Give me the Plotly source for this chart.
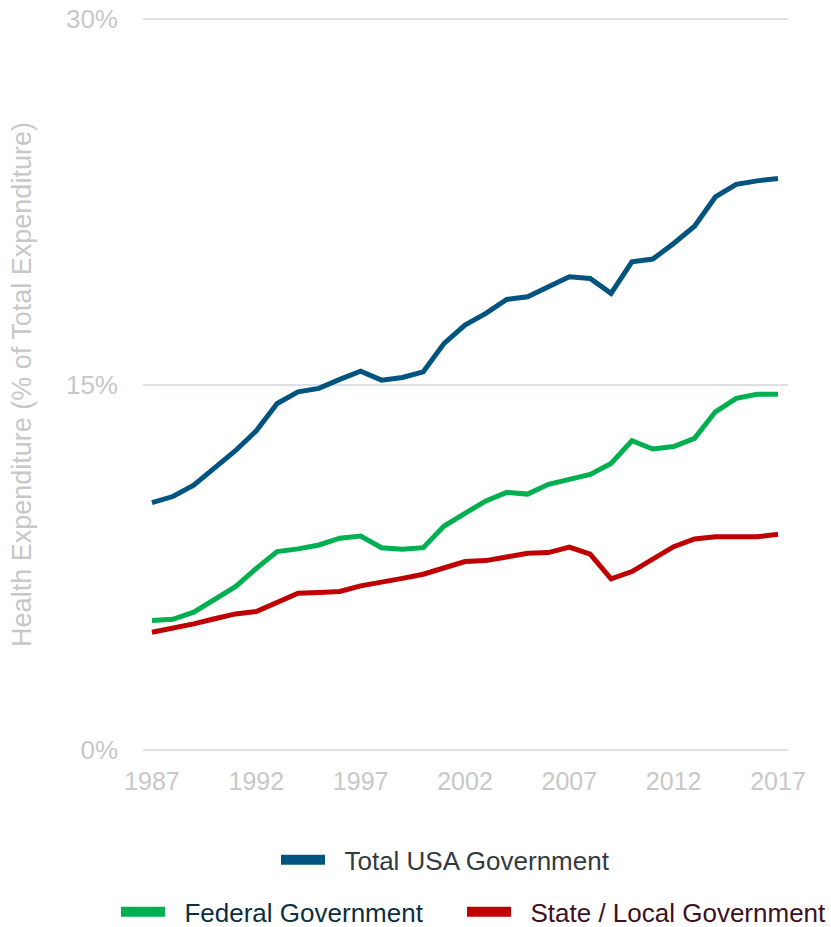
import plotly.graph_objects as go

years = list(range(1987, 2018))
total_gov = [10.15, 10.40, 10.87, 11.56, 12.28, 13.10, 14.22, 14.70, 14.84, 15.21,
             15.55, 15.18, 15.29, 15.52, 16.69, 17.44, 17.92, 18.49, 18.60, 19.01,
             19.42, 19.35, 18.74, 20.04, 20.15, 20.79, 21.50, 22.70, 23.22, 23.36, 23.46]
federal_gov = [5.31, 5.36, 5.65, 6.16, 6.70, 7.45, 8.14, 8.25, 8.41, 8.69,
               8.78, 8.30, 8.24, 8.30, 9.19, 9.71, 10.22, 10.57, 10.50, 10.90,
               11.08, 11.31, 11.76, 12.69, 12.35, 12.45, 12.79, 13.88, 14.43, 14.60, 14.60]
state_local_gov = [4.83, 4.99, 5.17, 5.38, 5.58, 5.68, 6.06, 6.43, 6.46, 6.50,
                   6.73, 6.87, 7.04, 7.21, 7.46, 7.73, 7.77, 7.93, 8.07, 8.10,
                   8.32, 8.03, 7.02, 7.32, 7.83, 8.34, 8.66, 8.75, 8.75, 8.75, 8.85]

x_ticks = [1987, 1992, 1997, 2002, 2007, 2012, 2017]
y_ticks = [0, 15, 30]
y_tick_labels = ["0%", "15%", "30%"]

series = [
    ("Total USA Government", total_gov, "#00547f", "#333b40", "legend"),
    ("Federal Government", federal_gov, "#00b050", "#0d2f3f", "legend2"),
    ("State / Local Government", state_local_gov, "#c00000", "#3f1020", "legend3"),
]

FONT = "Arial, Liberation Sans, sans-serif"
NB = "\u00a0\u00a0"
fig = go.Figure()
for name, vals, color, tcolor, lg in series:
    fig.add_trace(go.Scatter(x=years, y=vals, mode="lines", name=name,
                             line=dict(color=color, width=5), showlegend=False))
    fig.add_trace(go.Scatter(x=[None], y=[None], mode="lines", name=NB + name,
                             line=dict(color=color, width=11), legend=lg,
                             showlegend=True))

W, H = 831, 927
Y_PAD = 0.5
PX_PER_UNIT = (750 - 19) / 30.0
PL, PR = 143, 788
PT = 19 - Y_PAD * PX_PER_UNIT
PB = 750 + Y_PAD * PX_PER_UNIT
PW, PH = PR - PL, PB - PT

def leg(xwin, ywin, color):
    return dict(orientation="h", x=(xwin - PL) / PW, y=-(ywin - PB) / PH,
                xanchor="left", yanchor="middle",
                xref="paper", yref="paper", itemwidth=44,
                font=dict(family=FONT, size=26, color=color),
                bgcolor="rgba(0,0,0,0)")

fig.update_layout(
    width=W, height=H,
    margin=dict(l=PL, r=W - PR, t=PT, b=H - PB, autoexpand=False),
    paper_bgcolor="white", plot_bgcolor="white",
    font=dict(family=FONT),
    xaxis=dict(range=[1986.57, 2017.48], tickvals=x_ticks, showgrid=False,
               zeroline=False, showline=False, ticks="",
               tickfont=dict(family=FONT, size=25, color="#c8c8c8"),
               ticklabelstandoff=2),
    yaxis=dict(range=[-Y_PAD, 30 + Y_PAD], tickvals=y_ticks, ticktext=y_tick_labels,
               showgrid=True, gridcolor="#dde0e4", gridwidth=1.5,
               zeroline=False, showline=False, ticks="",
               tickfont=dict(family=FONT, size=26, color="#c8c8c8"),
               ticklabelstandoff=24, ticklabeloverflow="allow",
               title=dict(text="Health Expenditure (% of Total Expenditure)",
                          font=dict(family=FONT, size=27, color="#c8c8c8"),
                          standoff=26)),
    legend=leg(276, 860, "#333b40"),
    legend2=leg(116, 912, "#0d2f3f"),
    legend3=leg(462, 912, "#3f1020"),
)

fig.write_html("out.html", config={"displayModeBar": False},
               post_script="document.body.style.margin='0';")
